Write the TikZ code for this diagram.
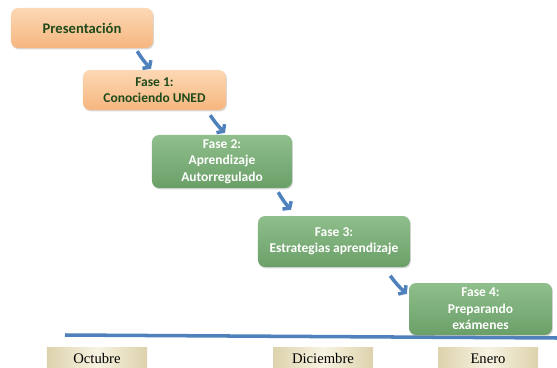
\documentclass[tikz,border=0pt]{standalone}
\usepackage{fontspec}
\setmainfont{Carlito}
\newfontfamily\mesfont{Liberation Serif}
\usetikzlibrary{arrows.meta, shadows}

\definecolor{durazno}{HTML}{FCD8B4}
\definecolor{duraznoosc}{HTML}{F6B67F}
\definecolor{verdeclaro}{HTML}{8FBF8C}
\definecolor{verdeosc}{HTML}{6B9F68}
\definecolor{verdetexto}{HTML}{1F4A1B}
\definecolor{azul}{HTML}{4F81BD}
\definecolor{crema}{HTML}{F7F3E1}
\definecolor{cremaosc}{HTML}{DCD2AC}

\begin{document}
\begin{tikzpicture}[x=0.03cm, y=-0.03cm,
    caja/.style={rounded corners=6pt, inner sep=2pt, align=center,
        font=\bfseries\fontsize{11.5}{14}\selectfont,
        drop shadow={opacity=0.3, shadow xshift=0.8pt, shadow yshift=-1.2pt}},
    naranja/.style={caja, top color=durazno, bottom color=duraznoosc, text=verdetexto},
    verde/.style={caja, top color=verdeclaro, bottom color=verdeosc, text=white},
    flecha/.style={azul, line width=3pt, -{Straight Barb[length=3.5pt,width=10pt]}},
    mes/.style={minimum width=3cm, minimum height=0.69cm, inner sep=0pt,
        left color=cremaosc, right color=cremaosc, middle color=crema,
        font=\mesfont\fontsize{12.5}{14}\selectfont}]
    \useasboundingbox (0,0) rectangle (557,368);

    \coordinate (ini) at (65,335);
    \coordinate (fin) at (557,338);
    \draw [azul, line width=3pt] (ini) -- (fin);

    \node[naranja, minimum width=4.26cm, minimum height=1.2cm,
        font=\bfseries\fontsize{12.5}{15}\selectfont] (pres) at (82,28) {Presentación};
    \node[naranja, minimum width=4.29cm, minimum height=1.2cm] (f1) at (154.5,90)
        {Fase 1:\\ Conociendo UNED};
    \node[verde, minimum width=4.2cm, minimum height=1.59cm] (f2) at (222,161.5)
        {Fase 2:\\ Aprendizaje\\ Autorregulado};
    \node[verde, minimum width=4.56cm, minimum height=1.53cm] (f3) at (334,241.5)
        {Fase 3:\\ Estrategias aprendizaje};
    \node[verde, minimum width=4.29cm, minimum height=1.56cm] (f4) at (480.5,309)
        {Fase 4:\\ Preparando\\ exámenes};

    \draw [flecha] ([shift={(-16,3)}]pres.south east) to[bend right=6] ([shift={(-3.5,-1)}]f1.north);
    \draw [flecha] ([shift={(-16,5)}]f1.south east) to[bend right=6] ([shift={(3,-2)}]f2.north);
    \draw [flecha] ([shift={(-14,4)}]f2.south east) to[bend right=6] ([shift={(-43,-6)}]f3.north);
    \draw [flecha] ([shift={(-20,8.5)}]f3.south east) to[bend right=6] ([shift={(-2,11)}]f4.north west);

    \node[mes] (oct) at (97,358.5) {Octubre};
    \node[mes] (dic) at (323,358.5) {Diciembre};
    \node[mes] (ene) at (488,358.5) {Enero};
\end{tikzpicture}
\end{document}
